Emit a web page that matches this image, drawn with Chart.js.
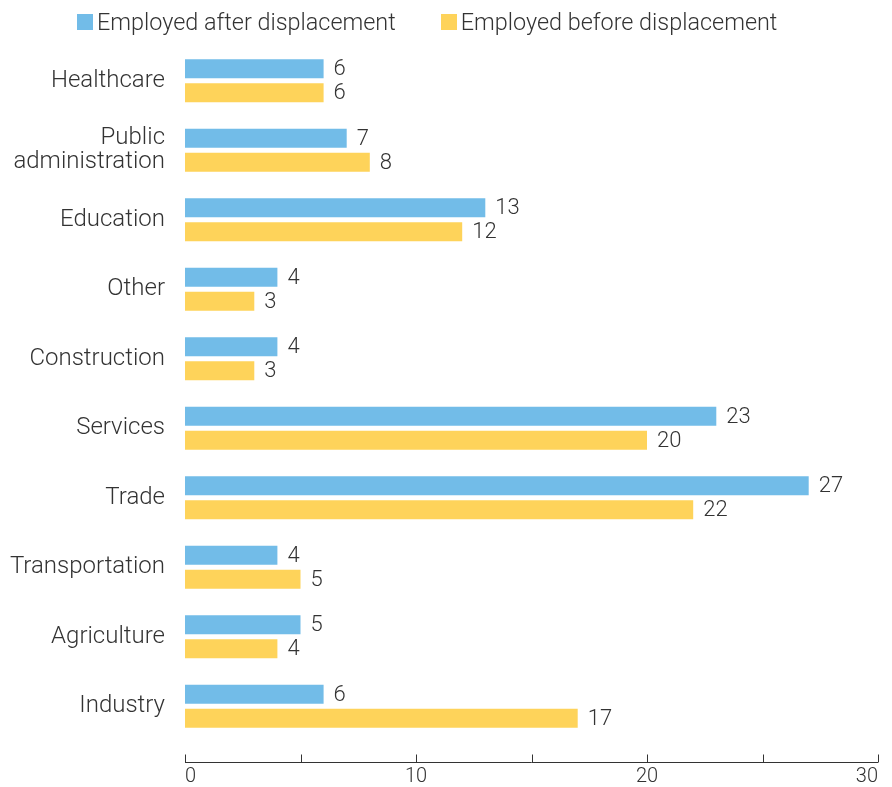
<!DOCTYPE html>
<html>
<head>
<meta charset="utf-8">
<script src="https://cdn.jsdelivr.net/npm/chart.js@4.4.1/dist/chart.umd.min.js"></script>
<style>
html,body{margin:0;padding:0;background:#fff;}
#wrap{width:892px;height:787px;position:relative;}
#legend{position:absolute;left:77px;top:9px;display:flex;font-family:Roboto,sans-serif;font-weight:300;font-size:23.4px;color:#333;line-height:26px;}
#legend .item{display:flex;align-items:center;margin-right:45px;white-space:nowrap;}
#legend .box{width:16px;height:16px;margin-right:4px;display:inline-block;}
</style>
</head>
<body>
<div id="wrap"><canvas id="c" width="892" height="787"></canvas><div id="legend"></div></div>
<script>
const categories = ["Healthcare", ["Public", "administration"], "Education", "Other", "Construction", "Services", "Trade", "Transportation", "Agriculture", "Industry"];
const afterDisplacement = [6, 7, 13, 4, 4, 23, 27, 4, 5, 6];
const beforeDisplacement = [6, 8, 12, 3, 3, 20, 22, 5, 4, 17];
const seriesNames = ["Employed after displacement", "Employed before displacement"];
const seriesColors = ["#72bce8", "#fed35a"];
const xTicks = [0, 10, 20, 30];

const FONT = "Roboto";
const TEXT = "#333333";

const valueLabels = {
  id: 'valueLabels',
  afterDatasetsDraw(chart) {
    const ctx = chart.ctx;
    ctx.save();
    ctx.font = "300 22px " + FONT;
    ctx.fillStyle = TEXT;
    ctx.textAlign = "left";
    ctx.textBaseline = "middle";
    chart.data.datasets.forEach((ds, i) => {
      const meta = chart.getDatasetMeta(i);
      meta.data.forEach((el, j) => {
        ctx.fillText(String(ds.data[j]), el.x + 10, el.y + 1);
      });
    });
    ctx.restore();
  }
};

const axisLine = {
  id: 'axisLine',
  afterDraw(chart) {
    const ctx = chart.ctx;
    const xs = chart.scales.x;
    const y = Math.round(chart.chartArea.bottom + 21) + 0.5;
    ctx.save();
    ctx.strokeStyle = "#333333";
    ctx.lineWidth = 1;
    ctx.beginPath();
    ctx.moveTo(xs.left, y);
    ctx.lineTo(xs.right, y);
    xs.ticks.forEach(t => {
      const x = Math.round(xs.getPixelForValue(t.value)) + 0.5;
      ctx.moveTo(x, y);
      ctx.lineTo(x, y - 8);
    });
    ctx.stroke();
    ctx.restore();
  }
};

const chart = new Chart(document.getElementById('c'), {
  type: 'bar',
  data: {
    labels: categories,
    datasets: [
      { label: seriesNames[0], data: afterDisplacement, backgroundColor: seriesColors[0] },
      { label: seriesNames[1], data: beforeDisplacement, backgroundColor: seriesColors[1] }
    ]
  },
  plugins: [valueLabels, axisLine],
  options: {
    indexAxis: 'y',
    responsive: false,
    animation: false,
    layout: { padding: { left: 0, right: 14, top: 46, bottom: 0 } },
    datasets: { bar: { categoryPercentage: 0.69, barPercentage: 0.79 } },
    plugins: {
      legend: { display: false },
      tooltip: { enabled: false }
    },
    scales: {
      x: {
        min: 0, max: 30,
        grid: { display: false, drawTicks: true, tickLength: 26 },
        border: { display: false },
        ticks: {
          stepSize: 5,
          padding: 0,
          align: 'inner',
          color: TEXT,
          font: { family: FONT, size: 20, weight: 300, lineHeight: 1.0 },
          callback: v => xTicks.includes(v) ? String(v) : ''
        }
      },
      y: {
        grid: { display: false, drawTicks: false },
        border: { display: false },
        afterFit: s => { s.width = 185; },
        ticks: {
          padding: 20,
          color: TEXT,
          font: { family: FONT, size: 24, weight: 300, lineHeight: 1.0 }
        }
      }
    }
  }
});

// HTML legend built from the chart's datasets
const legendEl = document.getElementById('legend');
chart.data.datasets.forEach(ds => {
  const item = document.createElement('span');
  item.className = 'item';
  const box = document.createElement('span');
  box.className = 'box';
  box.style.background = ds.backgroundColor;
  item.appendChild(box);
  item.appendChild(document.createTextNode(ds.label));
  legendEl.appendChild(item);
});
</script>
</body>
</html>
